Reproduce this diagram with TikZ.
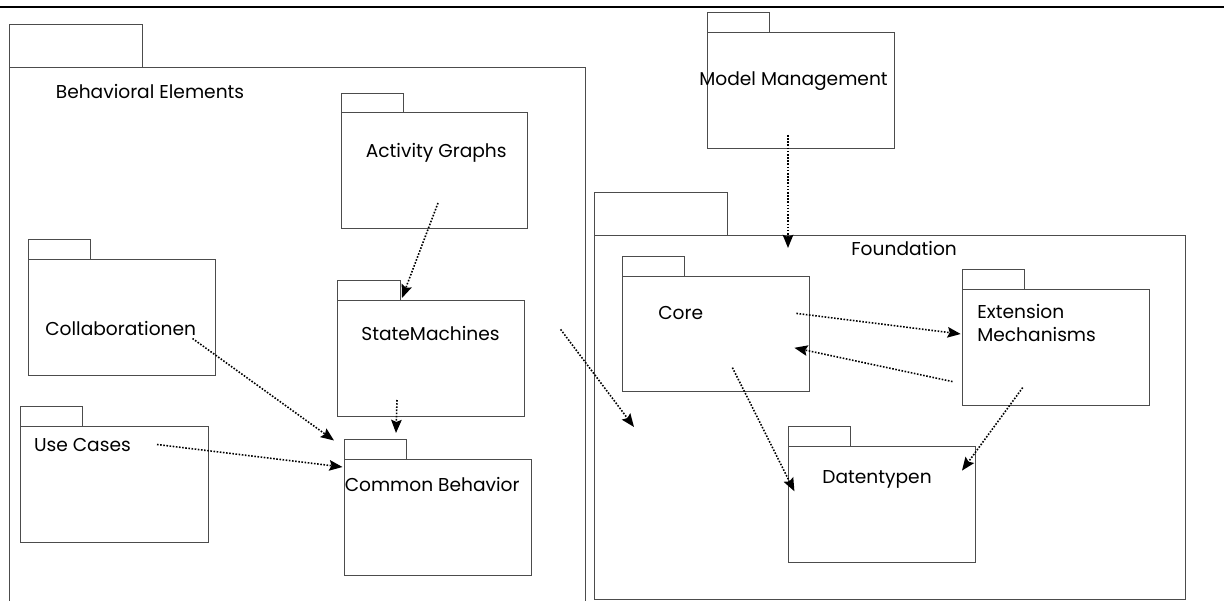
\documentclass[tikz,border=0pt]{standalone}
\usepackage{fontspec}
\setmainfont{Poppins}
\usetikzlibrary{arrows.meta}

\begin{document}
\begin{tikzpicture}[x=0.02cm,y=-0.02cm,
        pkg/.style={draw=black!70, line width=0.55pt},
        lbl/.style={anchor=west, inner sep=0pt, font=\fontsize{10.6}{13.6}\selectfont},
        dep/.style={line width=0.9pt, dash pattern=on 0.9pt off 0.9pt, -{Stealth[length=7.5pt,width=6pt,inset=1.2pt]}}]
        \useasboundingbox (0,0) rectangle (1224,601);

        % Draw top rule
        \draw[line width=1.1pt] (0,7) -- (1224,7);

        % Draw the packages
        \draw[pkg] (9.6,24) rectangle (142,67);
        \draw[pkg] (9.6,67) rectangle (585.5,610);
        \draw[pkg] (341,93) rectangle (403,112);
        \draw[pkg] (341,112) rectangle (527.7,228);
        \draw[pkg] (28.7,239) rectangle (90.7,259);
        \draw[pkg] (28.7,259) rectangle (215.5,375);
        \draw[pkg] (337.5,280) rectangle (400,300);
        \draw[pkg] (337.5,300) rectangle (524,416);
        \draw[pkg] (20,406) rectangle (82,426);
        \draw[pkg] (20,426) rectangle (208,542.5);
        \draw[pkg] (344.4,439) rectangle (406.4,459);
        \draw[pkg] (344.4,459) rectangle (531,575);
        \draw[pkg] (707,12.7) rectangle (769,32.7);
        \draw[pkg] (707,32.7) rectangle (894,148);
        \draw[pkg] (594.8,192) rectangle (727,235);
        \draw[pkg] (594.8,235) rectangle (1185,599.5);
        \draw[pkg] (622,256) rectangle (684,276);
        \draw[pkg] (622,276) rectangle (809,391.6);
        \draw[pkg] (962,269) rectangle (1024,289);
        \draw[pkg] (962,289) rectangle (1149,405);
        \draw[pkg] (788.6,426) rectangle (850.6,446);
        \draw[pkg] (788.6,446) rectangle (975.5,562);

        % Draw labels
        \node[lbl] (behav) at (55.5,92) {Behavioral Elements};
        \node[lbl] (activ) at (365.5,153) {Activity Graphs};
        \node[lbl] (collab) at (45,328) {Collaborationen};
        \node[lbl] (statem) at (361,333) {StateMachines};
        \node[lbl] (usec) at (33.7,445.5) {Use Cases};
        \node[lbl] (commbeh) at (344.4,484.6) {Common Behavior};
        \node[lbl] (modman) at (699,81) {Model Management};
        \node[lbl] (found) at (851,248) {Foundation};
        \node[lbl] (core) at (658,313) {Core};
        \node[lbl, align=left] (extmech) at (977,323) {Extension\\Mechanisms};
        \node[lbl] (datent) at (822,479) {Datentypen};

        % Arrow ends
        \coordinate (activ-s) at (438,203);
        \coordinate (statem-n) at (402,298);
        \coordinate (collab-s) at (192.5,338.5);
        \coordinate (commbeh-nw) at (334,440.5);
        \coordinate (usec-s) at (157,444.5);
        \coordinate (commbeh-w) at (342.5,467);
        \coordinate (statem-s) at (397,400);
        \coordinate (commbeh-n) at (396,433);
        \coordinate (behav-s) at (560.6,329.4);
        \coordinate (found-w) at (634,427);
        \coordinate (modman-s) at (788,135);
        \coordinate (found-n) at (788,248);
        \coordinate (core-e) at (796.4,313.4);
        \coordinate (extmech-w) at (960.7,334);
        \coordinate (extmech-sw) at (952.5,381.6);
        \coordinate (core-se) at (794.4,347.8);
        \coordinate (core-s) at (732.4,367.6);
        \coordinate (datent-w) at (794.4,491.3);
        \coordinate (extmech-s) at (1022.7,387.6);
        \coordinate (datent-ne) at (962,470.6);

        % Draw dependencies
        \draw[dep] (activ-s) -- (statem-n);
        \draw[dep] (collab-s) -- (commbeh-nw);
        \draw[dep] (usec-s) -- (commbeh-w);
        \draw[dep] (statem-s) -- (commbeh-n);
        \draw[dep] (behav-s) -- (found-w);
        \draw[dep] (modman-s) -- (found-n);
        \draw[dep] (core-e) -- (extmech-w);
        \draw[dep] (extmech-sw) -- (core-se);
        \draw[dep] (core-s) -- (datent-w);
        \draw[dep] (extmech-s) -- (datent-ne);

\end{tikzpicture}
\end{document}
